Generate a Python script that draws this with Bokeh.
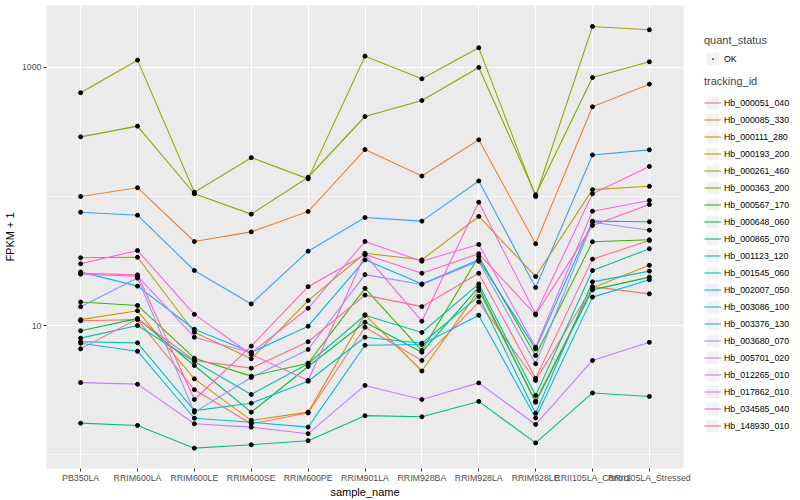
from bokeh.plotting import figure
from bokeh.models import (FactorRange, Range1d, FixedTicker, NumeralTickFormatter,
                          Legend, LegendItem)
from bokeh.layouts import row
from bokeh.embed import file_html
from bokeh.resources import INLINE

samples = ["PB350LA", "RRIM600LA", "RRIM600LE", "RRIM600SE", "RRIM600PE",
           "RRIM901LA", "RRIM928BA", "RRIM928LA", "RRIM928LE",
           "RRII105LA_Control", "RRII105LA_Stressed"]

tracking_ids = ["Hb_000051_040", "Hb_000085_330", "Hb_000111_280", "Hb_000193_200",
                "Hb_000261_460", "Hb_000363_200", "Hb_000567_170", "Hb_000648_060",
                "Hb_000865_070", "Hb_001123_120", "Hb_001545_060", "Hb_002007_050",
                "Hb_003086_100", "Hb_003376_130", "Hb_003680_070", "Hb_005701_020",
                "Hb_012265_010", "Hb_017862_010", "Hb_034585_040", "Hb_148930_010"]

colors = ["#F8766D", "#EA8331", "#D89000", "#C09B00", "#A3A500", "#7CAE00",
          "#39B600", "#00BB4E", "#00BF7D", "#00C1A3", "#00BFC4", "#00BAE0",
          "#00B0F6", "#35A2FF", "#9590FF", "#C77CFF", "#E76BF3", "#FA62DB",
          "#FF62BC", "#FF6C91"]

# FPKM + 1 per sample (order of `samples`)
Hb_000051_040 = [10.9, 11.1, 3.18, 1.73, 2.10, 9.70, 5.36, 15.2, 3.75, 20.0, 17.6]
Hb_000085_330 = [100, 117, 44.8, 53.2, 76.5, 231, 144, 275, 43.0, 496, 743]
Hb_000111_280 = [11.1, 13.0, 3.86, 1.84, 2.13, 12.1, 4.44, 18.7, 2.59, 19.6, 29.3]
Hb_000193_200 = [33.5, 33.8, 8.87, 5.52, 15.6, 36.3, 32.3, 70.0, 24.0, 113, 120]
Hb_000261_460 = [637, 1140, 108, 200, 137, 1224, 817, 1422, 100, 2080, 1960]
Hb_000363_200 = [290, 351, 105, 73.0, 141, 417, 555, 1000, 103, 836, 1107]
Hb_000567_170 = [15.2, 14.3, 5.58, 4.05, 5.10, 19.4, 6.40, 34.3, 5.85, 44.6, 46.2]
Hb_000648_060 = [9.10, 11.3, 4.90, 2.13, 4.81, 10.6, 6.21, 19.8, 2.54, 18.9, 23.7]
Hb_000865_070 = [1.75, 1.68, 1.12, 1.19, 1.28, 2.00, 1.96, 2.58, 1.23, 3.00, 2.82]
Hb_001123_120 = [7.98, 10.0, 5.26, 2.92, 5.05, 12.0, 8.83, 21.0, 2.87, 26.7, 39.3]
Hb_001545_060 = [7.48, 7.34, 2.19, 2.50, 3.70, 8.11, 7.29, 16.8, 2.09, 21.8, 26.4]
Hb_002007_050 = [7.29, 6.32, 1.91, 1.78, 1.63, 7.03, 7.13, 12.0, 1.92, 16.6, 22.6]
Hb_003086_100 = [26.0, 20.2, 9.35, 6.20, 9.88, 32.3, 21.0, 32.3, 6.59, 64.4, 63.7]
Hb_003376_130 = [75.5, 71.6, 26.7, 14.7, 37.7, 68.7, 64.4, 132, 19.7, 210, 230]
Hb_003680_070 = [14.0, 23.3, 2.13, 3.95, 6.52, 24.8, 20.8, 31.5, 5.05, 63.2, 54.8]
Hb_005701_020 = [3.61, 3.51, 1.73, 1.63, 1.45, 3.43, 2.67, 3.59, 1.71, 5.36, 7.41]
Hb_012265_010 = [25.0, 24.1, 8.11, 6.14, 13.6, 44.8, 31.5, 42.5, 6.79, 76.9, 93.1]
Hb_017862_010 = [30.1, 38.1, 12.2, 5.96, 3.75, 35.5, 10.8, 90.3, 12.3, 105, 171]
Hb_034585_040 = [25.4, 24.7, 2.67, 6.92, 20.0, 35.5, 25.4, 36.0, 12.1, 59.6, 86.7]
Hb_148930_010 = [6.59, 11.3, 5.36, 4.67, 7.48, 17.2, 14.0, 25.4, 3.90, 32.7, 45.6]

series = [Hb_000051_040, Hb_000085_330, Hb_000111_280, Hb_000193_200, Hb_000261_460,
          Hb_000363_200, Hb_000567_170, Hb_000648_060, Hb_000865_070, Hb_001123_120,
          Hb_001545_060, Hb_002007_050, Hb_003086_100, Hb_003376_130, Hb_003680_070,
          Hb_005701_020, Hb_012265_010, Hb_017862_010, Hb_034585_040, Hb_148930_010]

y_ticks = [10, 1000]
y_minor = [1, 100]
y_limits = (0.779, 3024)

FONT = "Liberation Sans"
NAN = float("nan")

p = figure(width=695, height=500,
           x_range=FactorRange(factors=samples, range_padding=0.1,
                               range_padding_units="absolute"),
           y_axis_type="log", y_range=Range1d(*y_limits),
           toolbar_location=None, output_backend="svg",
           min_border_left=37, min_border_right=12, min_border_top=5,
           min_border_bottom=0)
p.background_fill_color = "#EBEBEB"
p.border_fill_color = "white"
p.outline_line_color = None

p.xgrid.grid_line_color = "white"
p.xgrid.grid_line_width = 1.1
p.ygrid.ticker = FixedTicker(ticks=y_ticks, minor_ticks=y_minor)
p.ygrid.grid_line_color = "white"
p.ygrid.grid_line_width = 1.1
p.ygrid.minor_grid_line_color = "white"
p.ygrid.minor_grid_line_width = 0.55

p.yaxis.ticker = FixedTicker(ticks=y_ticks)
p.yaxis.formatter = NumeralTickFormatter(format="0")

for ax in (p.xaxis, p.yaxis):
    ax.axis_line_color = None
    ax.major_tick_line_color = "#333333"
    ax.major_tick_out = 3
    ax.major_tick_in = 0
    ax.minor_tick_out = 0
    ax.minor_tick_in = 0
    ax.minor_tick_line_color = None
    ax.major_label_text_color = "#4D4D4D"
    ax.major_label_text_font_size = "8.8px"
    ax.major_label_text_font = FONT
    ax.axis_label_text_font_size = "11px"
    ax.axis_label_text_font_style = "normal"
    ax.axis_label_text_font = FONT
    ax.axis_label_text_color = "black"

p.xaxis.axis_label = "sample_name"
p.yaxis.axis_label = "FPKM + 1"
p.xaxis.major_label_standoff = 1
p.xaxis.axis_label_standoff = 0
p.yaxis.major_label_standoff = 2
p.yaxis.axis_label_standoff = 3

for vals, c in zip(series, colors):
    p.line(x=samples, y=vals, line_color=c, line_width=1.1)
for vals in series:
    p.scatter(x=samples, y=vals, size=4, color="black")

# Legend panel
pl = figure(width=105, height=500, x_range=(0, 1), y_range=(0, 1), min_border=0,
            toolbar_location=None, output_backend="svg", outline_line_color=None,
            x_axis_location=None, y_axis_location=None)
pl.grid.visible = False
pl.border_fill_color = "white"
pl.background_fill_color = "white"

# legend proxies (no visible data)
bg = pl.quad(left=[NAN], right=[NAN], top=[NAN], bottom=[NAN],
             fill_color="#F2F2F2", line_color="white", line_width=1)
pt = pl.scatter(x=[NAN], y=[NAN], marker="dot", size=4, color="black",
                line_width=1.5)
line_rs = [pl.line(x=[NAN, NAN], y=[NAN, NAN], line_color=c, line_width=1.1)
           for c in colors]


def style(leg, standoff):
    leg.border_line_color = None
    leg.background_fill_alpha = 0
    leg.padding = 0
    leg.margin = 0
    leg.spacing = 0
    leg.glyph_width = 17
    leg.glyph_height = 17
    leg.label_height = 17
    leg.label_standoff = 3
    leg.label_text_font_size = "8.8px"
    leg.label_text_font = FONT
    leg.label_text_color = "black"
    leg.title_text_font_size = "11px"
    leg.title_text_font_style = "normal"
    leg.title_text_font = FONT
    leg.title_standoff = standoff


leg1 = Legend(items=[LegendItem(label="OK", renderers=[bg, pt])],
              title="quant_status", location=(9, 401))
style(leg1, 4)
leg2 = Legend(items=[LegendItem(label=t, renderers=[bg, r])
                     for t, r in zip(tracking_ids, line_rs)],
              title="tracking_id", location=(9, 34))
style(leg2, 7)
pl.add_layout(leg1, "center")
pl.add_layout(leg2, "center")

layout = row(p, pl)
open("out.html", "w").write(file_html(layout, INLINE))
